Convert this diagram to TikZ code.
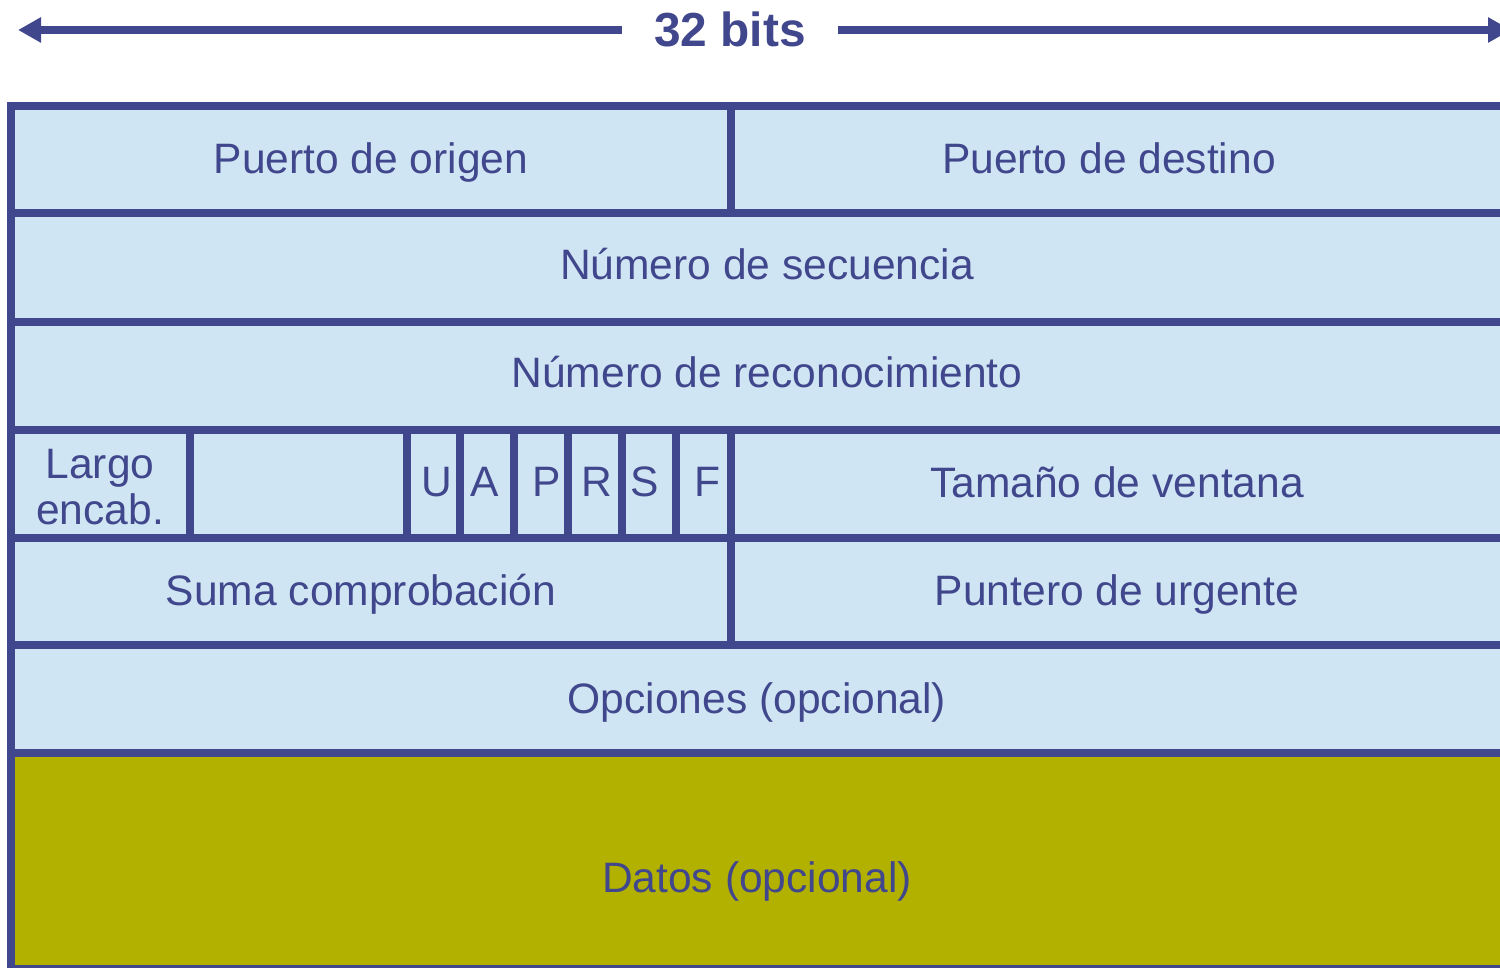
\documentclass[tikz,border=0pt]{standalone}
\usepackage{fontspec}
\setmainfont{Liberation Sans}
\usepackage{xcolor}
\usepackage{tikz}
\usetikzlibrary{arrows.meta,positioning,calc}

\definecolor{rulecol}{HTML}{41478C}
\definecolor{headfill}{HTML}{CFE5F3}
\definecolor{datafill}{HTML}{B3B100}

\begin{document}
\begin{tikzpicture}[
    x=0.01cm, y=-0.01cm,
    rule/.style={draw=rulecol, line width=0.08cm},
    field/.style={font=\fontsize{12.1}{13.4}\selectfont, text=rulecol, inner sep=0pt, text height=9pt, text depth=0pt},
    twoline/.style={font=\fontsize{12.1}{13.4}\selectfont, text=rulecol, inner sep=0pt, align=center},
    flag/.style={font=\fontsize{12.1}{13.4}\selectfont, text=rulecol, inner sep=0pt},
    >={Triangle[length=0.23cm, width=0.24cm]}
]
\useasboundingbox (0,0) rectangle (1500,968);
\clip (0,0) rectangle (1500,968);

% background of the header and the data
\fill[headfill] (11,106) rectangle (1530,753);
\fill[datafill] (11,753) rectangle (1530,975);

% horizontal rules
\foreach \y in {106,213,322,430,538,645,753,969}
  \draw[rule] (7,\y) -- (1530,\y);
\draw[rule] (11,102) -- (11,975);

% vertical rules
\draw[rule] (731,106) -- (731,213);
\draw[rule] (731,430) -- (731,645);
\foreach \x in {190,407,460,514,568,622,676}
  \draw[rule] (\x,430) -- (\x,538);

% width label
\node[font=\fontsize{13.6}{15}\selectfont\bfseries, text=rulecol, inner ysep=0pt, inner xsep=0.32cm] (width) at (730,29) {32 bits};
\coordinate (lefttip) at (18,30);
\coordinate (righttip) at (1511,30);
\draw[rule, ->] (width.west |- lefttip) -- (lefttip);
\draw[rule, ->] (width.east |- righttip) -- (righttip);

% fields
\node[field] (srcport) at (371,158) {Puerto de origen};
\node[field] (dstport) at (1109,158) {Puerto de destino};
\node[field] (seqnum) at (767,264) {Número de secuencia};
\node[field] (acknum) at (767,372) {Número de reconocimiento};
\node[twoline] (hdrlen) at (100,487) {Largo\\[-0.5pt]encab.};
\node[flag] (flagu) at (437,482) {U};
\node[flag] (flaga) at (485,482) {A};
\node[flag] (flagp) at (547,482) {P};
\node[flag] (flagr) at (597,482) {R};
\node[flag] (flags) at (645,482) {S};
\node[flag] (flagf) at (707,482) {F};
\node[field] (window) at (1117,482) {Tamaño de ventana};
\node[field] (checksum) at (361,590) {Suma comprobación};
\node[field] (urgptr) at (1117,590) {Puntero de urgente};
\node[field] (options) at (757,698) {Opciones (opcional)};
\node[field] (payload) at (757,877) {Datos (opcional)};

\end{tikzpicture}
\end{document}
